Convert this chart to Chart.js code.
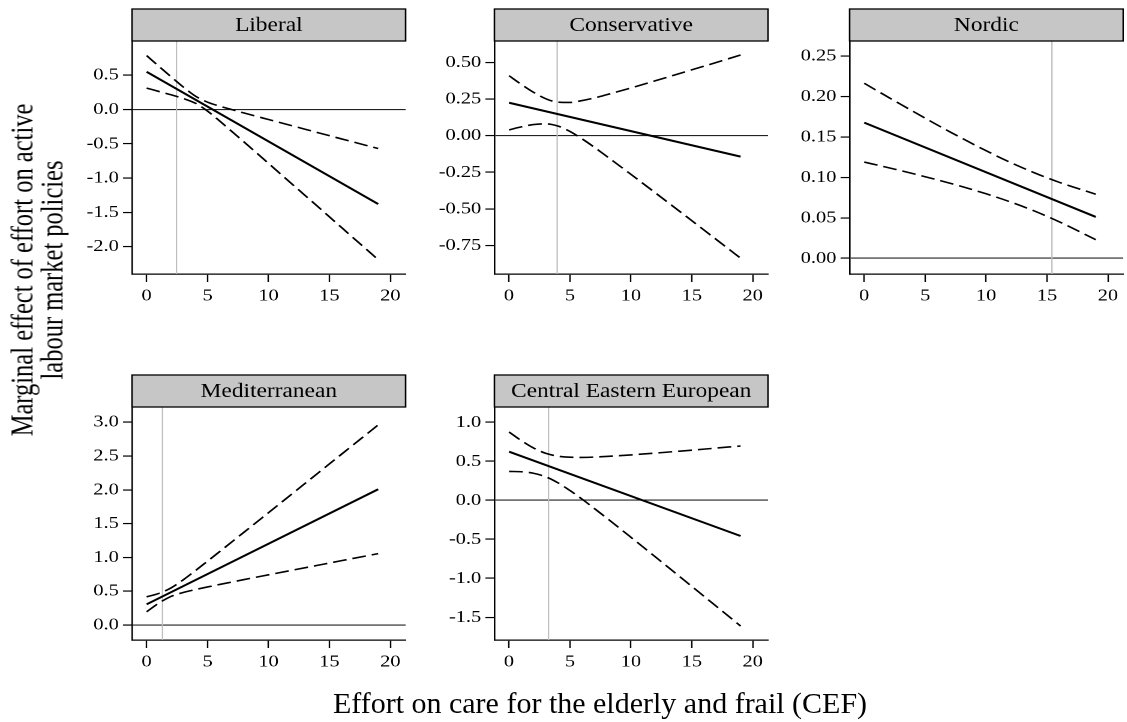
<!DOCTYPE html>
<html>
<head>
<meta charset="utf-8">
<script src="https://cdn.jsdelivr.net/npm/chart.js@4/dist/chart.umd.min.js"></script>
<style>
  body { margin: 0; background: #fff; overflow: hidden; width: 1127px; height: 722px; position: relative;
         font-family: 'Liberation Serif', 'Times New Roman', serif; color: #000; }
  /* panel text in the reference is a bit wide, so the panels are stretched */
  #stage { position: absolute; left: 0; top: 0; width: 939.2px; height: 722px;
           transform: scaleX(1.2); transform-origin: 0 0; }
  .panel { position: absolute; width: 285px; height: 314px; }
  #ytitle { position: absolute; left: -173.3px; top: 246px; width: 420px; height: 48px;
            transform: scaleX(1.25) rotate(-90deg); font-size: 24.5px; line-height: 24px;
            text-align: center; white-space: nowrap; }
  #xtitle { position: absolute; left: 300px; top: 688.2px; width: 600px; height: 30px;
            font-size: 30px; line-height: 30px; text-align: center; white-space: nowrap; }
</style>
</head>
<body>
<div id="stage"></div>
<div id="ytitle">Marginal effect of effort on active<br>labour market policies</div>
<div id="xtitle">Effort on care for the elderly and frail (CEF)</div>
<script>
const cefGrid = [0, 1, 2, 3, 4, 5, 6, 7, 8, 10, 12, 14, 16, 19];
const cefEnds = [0, 19];
const xTicks = [0, 5, 10, 15, 20];

const regimes = ["Liberal", "Conservative", "Nordic", "Mediterranean", "Central Eastern European"];
const meanCef = [2.45, 3.95, 15.4, 1.3, 3.24];

const liberalEst = [0.55, -1.38];
const liberalUpper = [0.787, 0.632, 0.479, 0.329, 0.196, 0.107, 0.049, -0.001, -0.051, -0.146, -0.240, -0.335, -0.429, -0.569];
const liberalLower = [0.313, 0.264, 0.215, 0.161, 0.092, -0.023, -0.169, -0.321, -0.475, -0.786, -1.098, -1.409, -1.723, -2.191];
const liberalTicks = ["0.5", "0.0", "-0.5", "-1.0", "-1.5", "-2.0"];

const conservEst = [0.225, -0.143];
const conservUpper = [0.410, 0.351, 0.297, 0.253, 0.229, 0.227, 0.240, 0.258, 0.280, 0.326, 0.375, 0.425, 0.475, 0.551];
const conservLower = [0.040, 0.060, 0.076, 0.081, 0.066, 0.029, -0.022, -0.079, -0.140, -0.264, -0.390, -0.517, -0.645, -0.837];
const conservTicks = ["0.50", "0.25", "0.00", "-0.25", "-0.50", "-0.75"];

const nordicEst = [0.1676, 0.0511];
const nordicUpper = [0.2163, 0.2075, 0.1988, 0.1902, 0.1816, 0.1731, 0.1647, 0.1565, 0.1485, 0.1329, 0.1184, 0.1054, 0.0939, 0.0792];
const nordicLower = [0.1189, 0.1154, 0.1119, 0.1083, 0.1046, 0.1008, 0.0969, 0.0929, 0.0887, 0.0797, 0.0696, 0.0582, 0.0451, 0.0230];
const nordicTicks = ["0.25", "0.20", "0.15", "0.10", "0.05", "0.00"];

const medEst = [0.306, 2.008];
const medUpper = [0.417, 0.467, 0.548, 0.668, 0.804, 0.945, 1.087, 1.231, 1.374, 1.662, 1.950, 2.239, 2.528, 2.960];
const medLower = [0.195, 0.324, 0.423, 0.481, 0.524, 0.563, 0.600, 0.636, 0.672, 0.742, 0.812, 0.882, 0.952, 1.056];
const medTicks = ["3.0", "2.5", "2.0", "1.5", "1.0", "0.5", "0.0"];

const ceeEst = [0.623, -0.458];
const ceeUpper = [0.876, 0.766, 0.671, 0.603, 0.566, 0.552, 0.550, 0.554, 0.562, 0.582, 0.605, 0.630, 0.656, 0.696];
const ceeLower = [0.370, 0.366, 0.347, 0.302, 0.225, 0.125, 0.014, -0.105, -0.226, -0.474, -0.725, -0.977, -1.231, -1.612];
const ceeTicks = ["1.0", "0.5", "0.0", "-0.5", "-1.0", "-1.5"];

const yMin = [-2.40, -0.945, -0.0194, -0.222, -1.791];
const yMax = [1.0, 0.647, 0.2685, 3.225, 1.196];

const panels = [
  { est: liberalEst, upper: liberalUpper, lower: liberalLower, ticks: liberalTicks, left: 54, top: 0 },
  { est: conservEst, upper: conservUpper, lower: conservLower, ticks: conservTicks, left: 356, top: 0 },
  { est: nordicEst, upper: nordicUpper, lower: nordicLower, ticks: nordicTicks, left: 652, top: 0 },
  { est: medEst, upper: medUpper, lower: medLower, ticks: medTicks, left: 54, top: 366 },
  { est: ceeEst, upper: ceeUpper, lower: ceeLower, ticks: ceeTicks, left: 356, top: 366 }
];

Chart.defaults.font.family = "'Liberation Serif', 'Times New Roman', serif";
Chart.defaults.font.size = 17;
Chart.defaults.color = "#000";

// grey strip with the regime name + grey vertical line at the mean CEF
const facetPlugin = {
  id: "facet",
  beforeDatasetsDraw(chart, args, opts) {
    const a = chart.chartArea;
    const x = chart.scales.x.getPixelForValue(opts.cef);
    const ctx = chart.ctx;
    ctx.save();
    ctx.strokeStyle = "#bdbdbd";
    ctx.lineWidth = 1.1;
    ctx.beginPath();
    ctx.moveTo(x, a.top);
    ctx.lineTo(x, a.bottom);
    ctx.stroke();
    ctx.restore();
  },
  afterDraw(chart, args, opts) {
    const a = chart.chartArea;
    const ctx = chart.ctx;
    const h = 32;
    ctx.save();
    ctx.fillStyle = "#c6c6c6";
    ctx.fillRect(a.left, a.top - h, a.right - a.left, h);
    ctx.strokeStyle = "#000";
    ctx.lineWidth = 1.3;
    ctx.strokeRect(a.left, a.top - h, a.right - a.left, h);
    ctx.fillStyle = "#000";
    ctx.font = "19.5px 'Liberation Serif', 'Times New Roman', serif";
    ctx.textAlign = "center";
    ctx.textBaseline = "middle";
    ctx.fillText(opts.title, (a.left + a.right) / 2, a.top - h / 2 + 1);
    ctx.restore();
  }
};

const stage = document.getElementById("stage");

panels.forEach(function (p, k) {
  const box = document.createElement("div");
  box.className = "panel";
  box.style.left = p.left + "px";
  box.style.top = p.top + "px";
  const canvas = document.createElement("canvas");
  box.appendChild(canvas);
  stage.appendChild(box);

  new Chart(canvas, {
    type: "line",
    data: {
      datasets: [
        {
          data: cefEnds.map((x, i) => ({ x: x, y: p.est[i] })),
          borderColor: "#000",
          borderWidth: 2,
          pointRadius: 0
        },
        {
          data: cefGrid.map((x, i) => ({ x: x, y: p.upper[i] })),
          borderColor: "#000",
          borderWidth: 1.6,
          borderDash: [11.5, 5],
          pointRadius: 0,
          cubicInterpolationMode: "monotone"
        },
        {
          data: cefGrid.map((x, i) => ({ x: x, y: p.lower[i] })),
          borderColor: "#000",
          borderWidth: 1.6,
          borderDash: [11.5, 5],
          pointRadius: 0,
          cubicInterpolationMode: "monotone"
        }
      ]
    },
    options: {
      responsive: true,
      maintainAspectRatio: false,
      animation: false,
      devicePixelRatio: 2,
      layout: { padding: { top: 41, right: 0, left: 0, bottom: 0 } },
      plugins: {
        legend: { display: false },
        tooltip: { enabled: false },
        facet: { title: regimes[k], cef: meanCef[k] }
      },
      scales: {
        x: {
          type: "linear",
          min: -1.2,
          max: 21.25,
          afterFit: function (s) { s.height = 40; },
          afterBuildTicks: function (s) { s.ticks = xTicks.map(v => ({ value: v })); },
          ticks: { autoSkip: false, maxRotation: 0, padding: 4, callback: v => String(v) },
          grid: { drawOnChartArea: false, tickLength: 8, color: "#000", tickWidth: 1.2 },
          border: { color: "#000", width: 1.3 }
        },
        y: {
          type: "linear",
          min: yMin[k],
          max: yMax[k],
          afterFit: function (s) { s.width = 56; },
          afterBuildTicks: function (s) {
            s.ticks = p.ticks.map(l => ({ value: parseFloat(l) })).sort((a, b) => a.value - b.value);
          },
          ticks: { autoSkip: false, padding: 3.5, callback: v => p.ticks.find(l => parseFloat(l) === v) },
          grid: {
            color: c => (c.tick && c.tick.value === 0 ? "#222" : "rgba(0,0,0,0)"),
            tickColor: "#000",
            tickLength: 7.5,
            tickWidth: 1.2,
            lineWidth: 1.1
          },
          border: { color: "#000", width: 1.3 }
        }
      }
    },
    plugins: [facetPlugin]
  });
});
</script>
</body>
</html>
